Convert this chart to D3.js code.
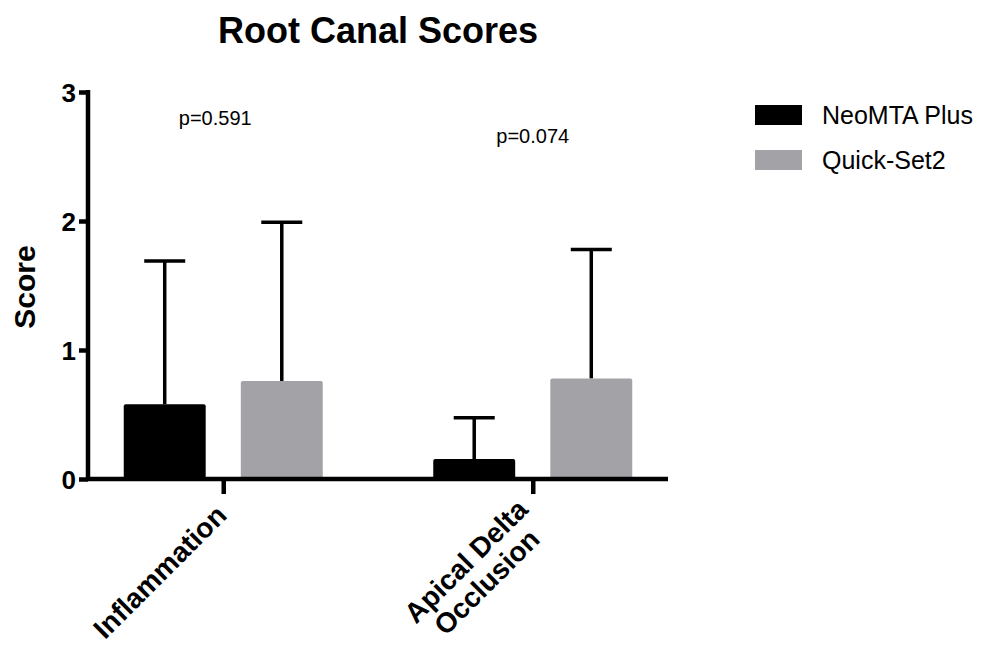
<!DOCTYPE html>
<html lang="en">
<head>
  <meta charset="utf-8">
  <script src="https://d3js.org/d3.v7.min.js"></script>
  <style>
    body { margin: 0; background: #fff; font-family: "Liberation Sans", Arial, Helvetica, sans-serif; }
    .axis path, .axis line { stroke: #000; stroke-width: 4.5px; }
    .axis text { font-weight: bold; font-size: 26px; fill: #000; font-family: "Liberation Sans", Arial, sans-serif; }
    .err { stroke: #000; stroke-width: 3.5px; fill: none; }
  </style>
</head>
<body>
  <svg id="chart" width="983" height="646"></svg>
  <script>
    // data
    var categories = ["Inflammation", "Apical Delta\nOcclusion"];
    var series = ["NeoMTA Plus", "Quick-Set2"];
    var means = [[0.58, 0.76], [0.155, 0.78]];
    var sds = [[1.11, 1.23], [0.32, 1.00]];
    var pLabels = ["p=0.591", "p=0.074"];
    var pLevels = [2.8, 2.66];
    var yTicks = [0, 1, 2, 3];
    var colors = ["#000000", "#a3a2a7"];

    var svg = d3.select("#chart");
    var mLeft = 88, mRight = 668, mTop = 92, mBottom = 479;

    var y = d3.scaleLinear().domain([0, 3]).range([mBottom, mTop]);
    var x = d3.scalePoint().domain(categories).range([mLeft, mRight]).padding(0.437);
    var sub = d3.scaleBand().domain(series).range([-99.5, 99.5]).paddingInner(0.3);
    var color = d3.scaleOrdinal().domain(series).range(colors);

    // title
    svg.append("text")
      .attr("x", 378).attr("y", 43)
      .attr("text-anchor", "middle")
      .style("font-weight", "bold").style("font-size", "36px")
      .text("Root Canal Scores");

    // bars + error bars
    var groups = svg.selectAll(".grp")
      .data(categories)
      .enter().append("g")
        .attr("class", "grp")
        .attr("transform", function(d) { return "translate(" + x(d) + ",0)"; });

    groups.each(function(cat, i) {
      var g = d3.select(this);
      var rows = series.map(function(s, j) { return { s: s, m: means[i][j], sd: sds[i][j] }; });

      g.selectAll(".err")
        .data(rows)
        .enter().append("path")
          .attr("class", "err")
          .attr("d", function(d) {
            var cx = sub(d.s) + sub.bandwidth() / 2;
            return "M" + cx + "," + y(d.m) + "V" + y(d.m + d.sd) +
                   "M" + (cx - 20.5) + "," + y(d.m + d.sd) + "H" + (cx + 20.5);
          });

      g.selectAll("rect")
        .data(rows)
        .enter().append("rect")
          .attr("x", function(d) { return sub(d.s); })
          .attr("y", function(d) { return y(d.m); })
          .attr("width", sub.bandwidth())
          .attr("height", function(d) { return y(0) - y(d.m); })
          .attr("rx", 2)
          .attr("fill", function(d) { return color(d.s); });
    });

    // y axis
    var yAxis = svg.append("g")
      .attr("class", "axis")
      .attr("transform", "translate(" + mLeft + ",0)")
      .call(d3.axisLeft(y).tickValues(yTicks).tickFormat(d3.format("d")).tickSize(9).tickSizeOuter(0));
    yAxis.select(".domain").attr("d", "M0," + (mTop - 2) + "V" + (mBottom + 2));
    yAxis.selectAll("text").attr("x", -12).attr("dy", "0.36em");

    // x axis
    var xAxis = svg.append("g")
      .attr("class", "axis")
      .attr("transform", "translate(0," + mBottom + ")")
      .call(d3.axisBottom(x).tickSize(15).tickSizeOuter(0).tickFormat(""));
    xAxis.select(".domain").attr("d", "M" + (mLeft - 2) + ",0H" + mRight);

    // category labels, rotated
    categories.forEach(function(cat) {
      var lines = cat.split("\n");
      var multi = lines.length > 1;
      var t = svg.append("text")
        .attr("transform", multi
          ? "translate(" + (x(cat) - 60) + "," + (mBottom + 89) + ") rotate(-45)"
          : "translate(" + (x(cat) + 5) + "," + (mBottom + 38) + ") rotate(-45)")
        .attr("text-anchor", multi ? "middle" : "end")
        .style("font-weight", "bold").style("font-size", "28px");
      lines.forEach(function(l, k) {
        t.append("tspan").attr("x", 0).attr("dy", k === 0 ? 0 : "1.05em").text(l);
      });
    });

    // y label
    svg.append("text")
      .attr("transform", "translate(35,287) rotate(-90)")
      .attr("text-anchor", "middle")
      .style("font-weight", "bold").style("font-size", "30px")
      .text("Score");

    // p-values
    svg.selectAll(".pval")
      .data(pLabels)
      .enter().append("text")
        .attr("class", "pval")
        .attr("x", function(d, i) { return x(categories[i]) + (i === 0 ? -8 : 0); })
        .attr("y", function(d, i) { return y(pLevels[i]) + 7; })
        .attr("text-anchor", "middle")
        .style("font-size", "20px")
        .text(function(d) { return d; });

    // legend
    var legend = svg.selectAll(".leg")
      .data(series)
      .enter().append("g")
        .attr("class", "leg")
        .attr("transform", function(d, i) { return "translate(755," + (105 + i * 45) + ")"; });
    legend.append("rect")
      .attr("width", 47).attr("height", 20)
      .attr("fill", function(d) { return color(d); });
    legend.append("text")
      .attr("x", 67).attr("y", 19)
      .style("font-size", "25px")
      .text(function(d) { return d; });
  </script>
</body>
</html>
